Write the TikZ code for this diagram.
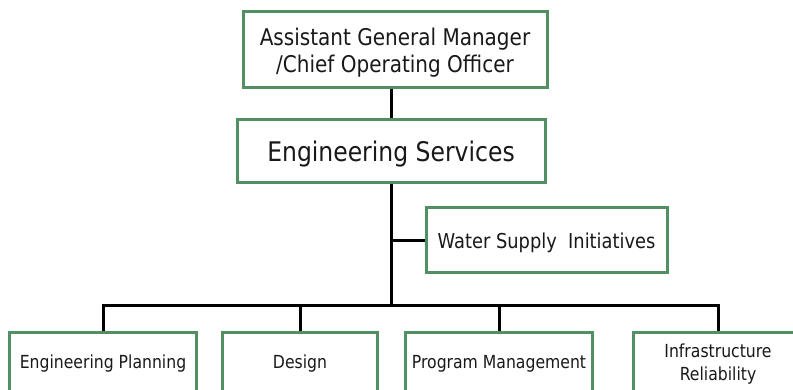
\documentclass[tikz,border=0pt]{standalone}
\usepackage{fontspec}
\setmainfont{DejaVu Sans}[FakeStretch=0.87]
\definecolor{boxgreen}{RGB}{82,143,98}
\begin{document}
\begin{tikzpicture}[x=1pt,y=-1pt,
  orgbox/.style={draw=boxgreen, line width=3pt, fill=white, rectangle,
    align=center, inner sep=0pt, text depth=0pt, text=black!90},
  link/.style={draw=black, line width=3pt}]
\useasboundingbox (0,0) rectangle (793,390);
\clip (0,0) rectangle (793,390);

% management chain
\node[orgbox, minimum width=304pt, minimum height=76pt,
  font=\fontsize{23}{27}\selectfont] (agm) at (395,50)
  {Assistant General Manager\\/Chief Operating Officer};
\node[orgbox, minimum width=308pt, minimum height=63pt,
  font=\fontsize{27}{32}\selectfont] (es) at (391,151.5)
  {Engineering Services};
\node[orgbox, minimum width=241pt, minimum height=65pt,
  font=\fontsize{20.5}{24}\selectfont] (wsi) at (546.5,240.5)
  {Water Supply~~Initiatives};

% divisions
\begin{scope}[every node/.style={orgbox, minimum height=60pt,
  font=\fontsize{18}{23}\selectfont}]
  \node[minimum width=187pt] (ep) at (103,362) {Engineering Planning};
  \node[minimum width=155pt] (de) at (300,362) {Design};
  \node[minimum width=187pt] (pm) at (499,362) {Program Management};
  \node[minimum width=170pt] (ir) at (718,362) {Infrastructure\\Reliability};
\end{scope}

\coordinate (bus) at (391,306);

% connectors
\draw[link] (es.north) -- (es.north |- agm.south);
\draw[link] (es.south) -- (bus);
\draw[link] (wsi.west) -- (wsi.west -| es.south);
\draw[link] (ep.north) |- (bus);
\draw[link] (ir.north) |- (bus);
\draw[link] (de.north) -- (de.north |- bus);
\draw[link] (pm.north) -- (pm.north |- bus);
\end{tikzpicture}
\end{document}
